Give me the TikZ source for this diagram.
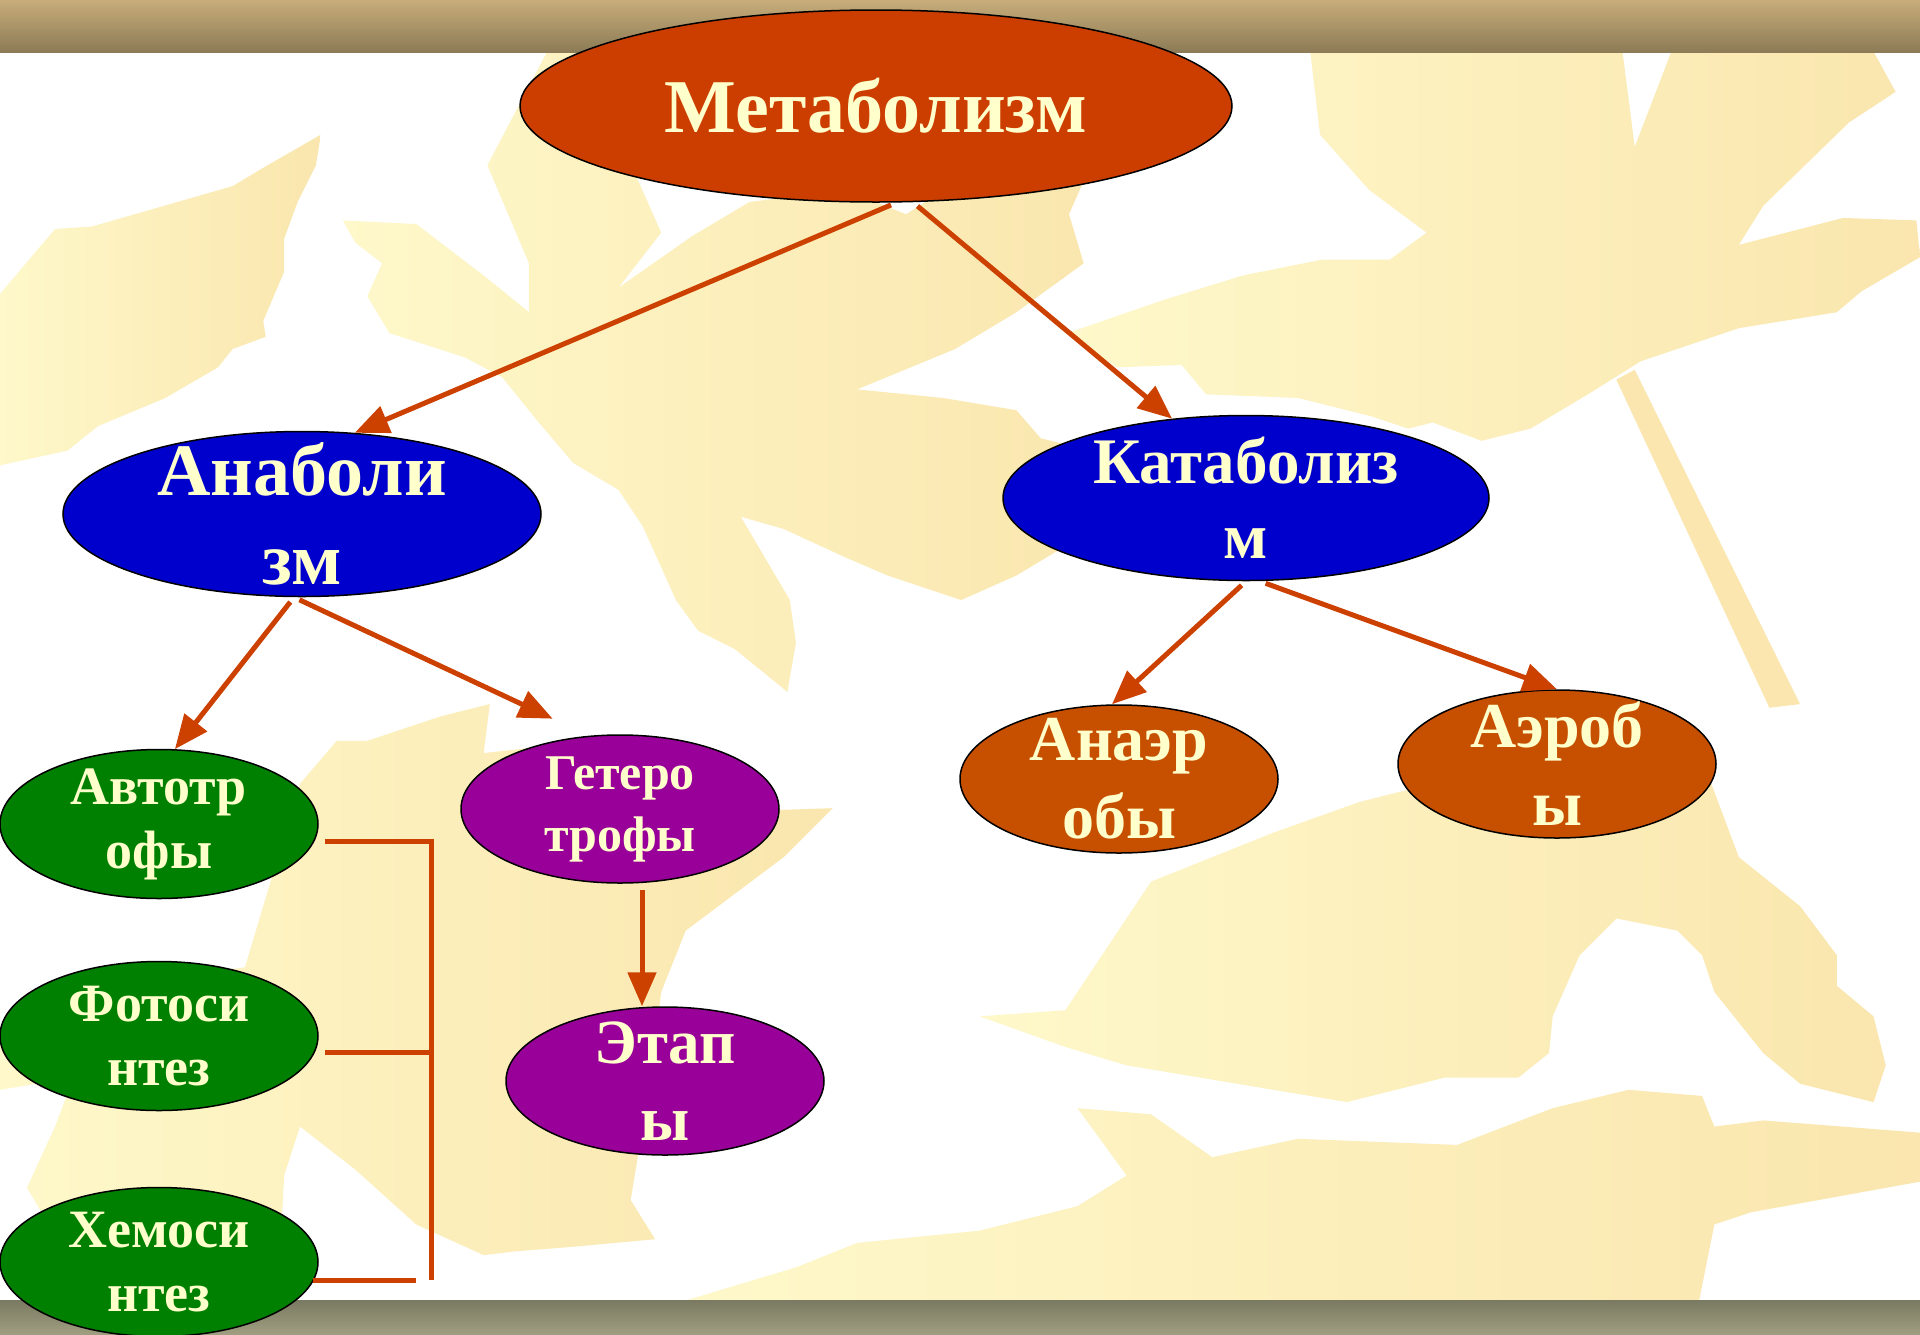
\documentclass[tikz,border=0pt]{standalone}
\usepackage{fontspec}
\setmainfont{Liberation Serif}
\usepackage{tikz}
\usetikzlibrary{arrows.meta,shapes.geometric,positioning}
\definecolor{metcol}{HTML}{CC3D00}
\definecolor{anacol}{HTML}{0000CC}
\definecolor{autocol}{HTML}{008000}
\definecolor{hetcol}{HTML}{990099}
\definecolor{respcol}{HTML}{C65000}
\definecolor{linkcol}{HTML}{CC4000}
\definecolor{txtcol}{HTML}{FFFFCC}
\definecolor{leaflt}{HTML}{FEF8CA}
\definecolor{leafdk}{HTML}{FAE6AE}
\definecolor{bartop}{HTML}{C8AD7A}
\definecolor{barbot}{HTML}{8C7B56}
\definecolor{foottop}{HTML}{7A7A62}
\definecolor{footbot}{HTML}{A09E80}
\tikzset{
    %Define standard arrow tip
    >={Triangle[length=34pt,width=28pt]},
    %Define style for ovals
    oval/.style={
           ellipse,
           draw=black, line width=1.5pt,
           inner xsep=0pt, inner ysep=-40pt,
           text=txtcol,
           align=center},
    mainoval/.style={
           oval,
           fill=metcol,
           minimum width=712pt,
           minimum height=192pt,
           font=\bfseries\fontsize{76}{90}\selectfont},
    classoval/.style={
           oval,
           fill=anacol,
           minimum width=478pt,
           minimum height=165pt},
    autooval/.style={
           oval,
           fill=autocol,
           minimum width=318pt,
           minimum height=149pt,
           font=\bfseries\fontsize{54}{64}\selectfont},
    heterooval/.style={
           oval,
           fill=hetcol,
           minimum width=318pt,
           minimum height=148pt,
           font=\bfseries\fontsize{50}{62}\selectfont},
    respoval/.style={
           oval,
           fill=respcol,
           minimum width=318pt,
           minimum height=148pt,
           font=\bfseries\fontsize{64}{78}\selectfont},
    % Define arrow style
    link/.style={
           ->,
           color=linkcol,
           line width=5pt,
           shorten <=6pt},
    bracketline/.style={
           draw=linkcol,
           line width=5pt},
    leaf/.style={
           left color=leaflt,
           right color=leafdk,
           draw=none}
}
\begin{document}
\begin{tikzpicture}[x=1pt,y=-1pt]
\useasboundingbox (0,0) rectangle (1920,1334);
\fill[white] (0,0) rectangle (1920,1334);
% background leaves
\begin{scope}[scale=1.2245]
\shade[leaf] (0,240) -- (45,187) -- (75,185) -- (190,152) -- (215,137) -- (262,110) -- (258,135) -- (243,165) -- (232,195) -- (232,222) -- (215,262) -- (217,275) -- (190,285) -- (178,300) -- (135,325) -- (80,348) -- (55,368) -- (0,380) -- cycle;
\shade[leaf] (280,180) -- (340,183) -- (395,225) -- (432,255) -- (432,215) -- (398,135) -- (448,40) -- (478,30) -- (505,90) -- (520,145) -- (540,190) -- (505,235) -- (565,193) -- (612,165) -- (690,155) -- (740,175) -- (810,130) -- (860,122) -- (884,150) -- (873,175) -- (885,215) -- (830,255) -- (780,285) -- (700,318) -- (770,325) -- (830,335) -- (850,358) -- (900,370) -- (915,400) -- (880,440) -- (830,470) -- (785,490) -- (725,470) -- (690,455) -- (640,432) -- (605,422) -- (645,490) -- (650,525) -- (643,565) -- (600,530) -- (570,515) -- (552,490) -- (525,430) -- (505,400) -- (468,378) -- (440,345) -- (410,308) -- (380,292) -- (318,272) -- (300,242) -- (312,215) -- (290,198) -- cycle;
\shade[leaf] (1070,42) -- (1325,42) -- (1335,120) -- (1365,42) -- (1530,42) -- (1548,75) -- (1510,100) -- (1440,168) -- (1420,200) -- (1505,178) -- (1565,180) -- (1568,210) -- (1520,238) -- (1500,255) -- (1420,268) -- (1340,295) -- (1300,320) -- (1250,350) -- (1210,360) -- (1170,345) -- (1150,350) -- (1120,340) -- (1060,325) -- (985,322) -- (965,298) -- (912,300) -- (872,272) -- (950,245) -- (1015,225) -- (1080,212) -- (1135,212) -- (1165,190) -- (1118,155) -- (1078,110) -- cycle;
\fill[leafdk] (1320,310) -- (1335,302) -- (1470,575) -- (1445,578) -- cycle;
\shade[leaf] (800,830) -- (870,825) -- (900,780) -- (940,720) -- (1040,680) -- (1110,655) -- (1170,640) -- (1260,590) -- (1330,590) -- (1390,620) -- (1420,700) -- (1470,740) -- (1500,780) -- (1500,805) -- (1530,830) -- (1540,870) -- (1530,900) -- (1470,885) -- (1440,860) -- (1400,810) -- (1390,780) -- (1370,760) -- (1320,750) -- (1290,780) -- (1268,830) -- (1265,860) -- (1240,880) -- (1180,880) -- (1160,885) -- (1100,900) -- (980,880) -- (920,870) -- (870,855) -- cycle;
\shade[leaf] (560,1062) -- (650,1035) -- (700,1015) -- (800,1005) -- (880,985) -- (920,960) -- (880,905) -- (940,910) -- (990,945) -- (1060,930) -- (1190,935) -- (1268,905) -- (1330,890) -- (1390,895) -- (1400,920) -- (1440,915) -- (1568,925) -- (1568,965) -- (1430,990) -- (1400,1000) -- (1385,1075) -- (1360,1062) -- cycle;
\shade[leaf] (0,840) -- (60,830) -- (120,800) -- (200,790) -- (245,640) -- (275,605) -- (300,605) -- (360,585) -- (400,575) -- (395,615) -- (440,610) -- (480,630) -- (520,660) -- (570,700) -- (620,662) -- (680,660) -- (640,700) -- (600,730) -- (560,760) -- (540,810) -- (530,890) -- (515,980) -- (535,1012) -- (470,1018) -- (420,1022) -- (395,1025) -- (340,1000) -- (290,955) -- (245,920) -- (232,960) -- (230,1000) -- (195,1010) -- (100,1010) -- (40,1000) -- (22,970) -- (45,920) -- (60,880) -- (0,890) -- cycle;
\end{scope}
% bars
\shade[top color=bartop, bottom color=barbot] (0,0) rectangle (1920,52);
\shade[top color=foottop, bottom color=footbot] (0,1300) rectangle (1920,1334);
% nodes
\node[mainoval] (meta) at (876,106) {Метаболизм};
\node[classoval, font=\bfseries\fontsize{74}{89}\selectfont] (anab) at (302,514) {Анаболи\\зм};
\node[classoval, minimum width=486pt, font=\bfseries\fontsize{65}{75}\selectfont] (katab) at (1246,498) {Катаболиз\\м};
\node[autooval] (auto) at (159,824) {Автотр\\офы};
\node[autooval] (foto) at (159,1036) {Фотоси\\нтез};
\node[autooval] (chemo) at (159,1262) {Хемоси\\нтез};
\node[heterooval] (hetero) at (620,809) {Гетеро\\трофы};
\node[heterooval, font=\bfseries\fontsize{63}{77}\selectfont] (etapy) at (665,1081) {Этап\\ы};
\node[respoval] (anaer) at (1119,779) {Анаэр\\обы};
\node[respoval] (aerob) at (1557,764) {Аэроб\\ы};
% arrows
\draw[link] (meta.-78) -- (anab.57);
\draw[link] (meta.-69) -- (katab.133);
\draw[link] ([xshift=-8pt]anab.south) -- (auto.78);
\draw[link, shorten >=40pt] ([xshift=-8pt]anab.south) -- (hetero.113);
\draw[link] ([xshift=22pt]hetero.south) -- ([xshift=22pt]hetero.south |- etapy.north);
\draw[link] (katab.south) -- ([xshift=-7pt]anaer.north);
\draw[link] ([xshift=14pt]katab.south) -- (aerob.north);
% bracket
\coordinate (brtop) at (431,841);
\coordinate (brmid) at (431,1052);
\coordinate (brbot) at (431,1280);
\coordinate (brend) at (416,1280);
\draw[bracketline] ([xshift=6pt,yshift=-17pt]auto.east) -- (brtop) -- (brbot);
\draw[bracketline] ([xshift=6pt,yshift=-16pt]foto.east) -- (brmid);
\draw[bracketline] ([xshift=-6pt,yshift=-18pt]chemo.east) -- (brend);
\end{tikzpicture}
\end{document}
